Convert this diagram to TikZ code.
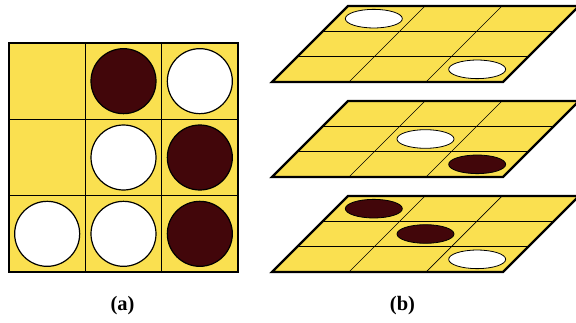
\documentclass[tikz,border=0pt]{standalone}
\usepackage{fontspec}
\setmainfont{Liberation Serif}
\usepackage{xcolor}
\usetikzlibrary{positioning}

\definecolor{boardyellow}{RGB}{250,224,80}
\definecolor{darkpiece}{RGB}{66,6,10}

\tikzset{
  board/.style={fill=boardyellow,draw=black,line width=2.4pt},
  gridline/.style={draw=black,line width=0.7pt},
  piece/.style={draw=black,line width=1.2pt},
  flatpiece/.style={draw=black,line width=0.8pt},
  caption/.style={font=\fontsize{20.5}{24}\selectfont\bfseries}
}

\begin{document}
\begin{tikzpicture}[x=1pt,y=1pt]
		
		\useasboundingbox (0,0) rectangle (576,322);
		
		% (a) the full board
		\begin{scope}[shift={(9,50)}]
			\fill[boardyellow] (0,0) rectangle (229,229);
			\foreach \k in {1,2}
			{
				\draw[gridline] (\k*76.33,0) -- (\k*76.33,229);
				\draw[gridline] (0,\k*76.33) -- (229,\k*76.33);
			}
			\foreach \i/\j/\c in {1/2/darkpiece,2/2/white,1/1/white,2/1/darkpiece,0/0/white,1/0/white,2/0/darkpiece}
				\filldraw[piece,fill=\c] (\i*76.33+38.17,\j*76.33+38.17) circle (32.5);
			\draw[board,fill=none] (0,0) rectangle (229,229);
		\end{scope}
		
		% (b) the three layers
		\foreach \yb/\pieces in {240/{0/2/white,2/0/white},
		                         145/{1/1/white,2/0/darkpiece},
		                          50/{0/2/darkpiece,1/1/darkpiece,2/0/white}}
		{
			\begin{scope}[shift={(272,\yb)},xslant=1]
				\fill[boardyellow] (0,0) rectangle (231,76);
				\foreach \k in {1,2}
				{
					\draw[gridline] (\k*77,0) -- (\k*77,76);
					\draw[gridline] (0,\k*25.33) -- (231,\k*25.33);
				}
				\draw[board,fill=none] (0,0) rectangle (231,76);
			\end{scope}
			\foreach \i/\j/\c in \pieces
				\filldraw[flatpiece,fill=\c]
				(272+\i*77+38.5+\j*25.33+12.67,\yb+\j*25.33+12.67)
				ellipse (28.5 and 9.3);
		}
		
		\node[caption] (capA) at (122.5,16) {(a)};
		\node[caption] (capB) at (402.5,16) {(b)};
		
	\end{tikzpicture}
\end{document}
